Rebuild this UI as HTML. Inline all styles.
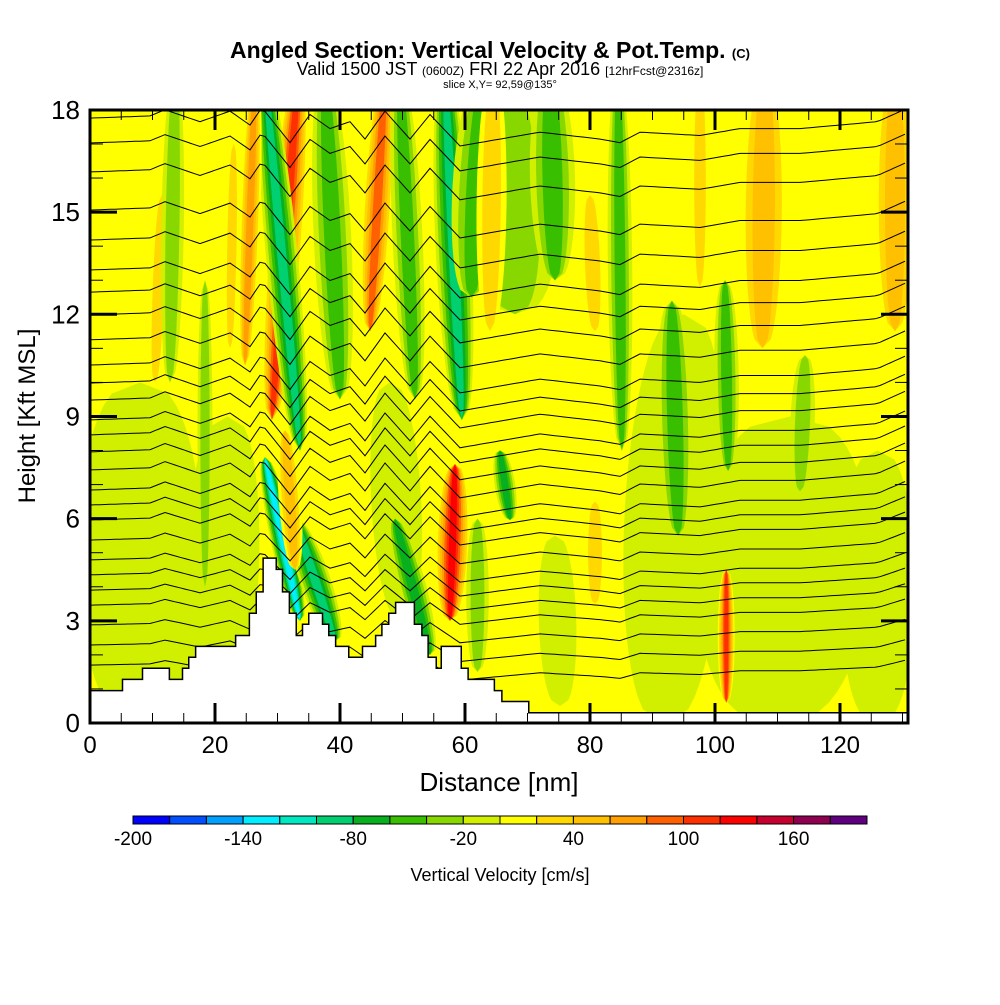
<!DOCTYPE html>
<html><head><meta charset="utf-8"><style>
body{margin:0;background:#fff;}
svg text{font-family:"Liberation Sans",sans-serif;}
</style></head><body>
<svg id="chart" width="1000" height="1000" viewBox="0 0 1000 1000" xmlns="http://www.w3.org/2000/svg">
<rect width="1000" height="1000" fill="#fff"/>
<text x="490" y="58" text-anchor="middle" font-size="23" font-weight="bold">Angled Section: Vertical Velocity &amp; Pot.Temp. <tspan font-size="13">(C)</tspan></text>
<text x="500" y="75" text-anchor="middle" font-size="18">Valid 1500 JST <tspan font-size="12">(0600Z)</tspan> FRI 22 Apr 2016 <tspan font-size="12">[12hrFcst@2316z]</tspan></text>
<text x="500" y="88" text-anchor="middle" font-size="11">slice X,Y= 92,59@135°</text>
<defs><clipPath id="plotclip"><rect x="90" y="110" width="818" height="613"/></clipPath></defs>
<g id="field" clip-path="url(#plotclip)"></g>
<g id="contours" clip-path="url(#plotclip)"></g>
<g id="terrain" clip-path="url(#plotclip)"></g>
<g id="axes"></g>
<g id="colorbar"></g>
<text x="499" y="791" text-anchor="middle" font-size="26">Distance [nm]</text>
<text transform="translate(35,416) rotate(-90)" text-anchor="middle" font-size="24">Height [Kft MSL]</text>
<text x="500" y="881" text-anchor="middle" font-size="18">Vertical Velocity [cm/s]</text>
</svg>
<script>
// ---- data ----
const levelColors = ["#0000ff","#0050ff","#00a0ff","#00eeff","#00e8c0","#00d070","#08b020","#38c000","#88d800","#d0f000","#ffff00","#ffd800","#ffc000","#ffa000","#ff6000","#ff3000","#ff0000","#c80030","#900050","#600080"];
const levelTicks = [-200,-140,-80,-20,40,100,160];
const xTicks = [0,20,40,60,80,100,120];
const yTicks = [0,3,6,9,12,15,18];
// blobs: bottom x(nm), bottom z(kft), top x, top z, half-width(nm), value(cm/s)
const blobX0 = [8,20,110,92,126,68,50, 29.1,33.6,24.8,44.8,40,52,59.5,61,57.6,33.6,39.2,32.8,54.4,101.8,74.4,85.1,94.1,102.1,113.6,67.2,107.6,128.8,64,80.8,97.6,10.4,22.4,80.8,75.2,62,12.8,18.4];
const blobZ0 = [0,0,0,0,0,12,3, 8.9,8.0,10.5,11.5,9.5,9.5,8.9,12.5,3.0,3.0,2.4,4.5,2.0,0.6,13.0,8.0,5.5,7.4,6.8,5.96,11.0,11.5,11.5,11.5,12.8,10.0,11,3.5,0.5,1.5,10,4];
const blobX1 = [8,22,112,95,126,66,48, 33.3,28,26.4,47.2,37.6,49.6,56.8,63,58.4,28,32.8,31.2,48.8,101.8,73.6,84.5,93.1,101.6,114.4,65.6,108,128.8,64.5,80,97.6,11.5,23,80.8,74.4,62,13.6,18.4];
const blobZ1 = [10,9,9,12,8,19,10, 19,19,19,19,19,19,19,19,7.6,7.8,6.0,8.6,6.0,4.5,19,19,12.4,13.0,10.8,8.0,19,19,19,15.5,19,15.5,17,6.5,5.5,6,19,13];
const blobHW = [10,6,14,8,6,8,4, 1.9,1.7,1.1,1.6,2.0,1.6,1.9,4,1.8,1.3,1.7,1.2,1.5,0.9,2.4,1.3,1.9,1.3,1.3,1.1,4,2.4,1.6,1.3,1.0,1.0,0.8,1.2,2,1.2,1.2,0.8];
const blobVal = [-10,-10,-10,-10,-10,-30,-10, 110,-90,70,100,-60,-60,-100,-60,140,-130,-100,60,-70,120,-60,-55,-60,-55,-35,-80,60,60,40,40,40,40,40,40,-20,-30,-30,-30];
// potential temperature contours: left-edge height (kft)
const thetaZ = [17.76,17.03,16.18,15.06,14.18,13.3,12.65,11.98,11.25,10.51,9.98,9.48,8.9,8.46,7.96,7.43,6.84,6.4,5.96,5.37,4.79,4.35,3.9,3.46,2.88,2.29,1.7];
// wave displacement knots (nm) and displacement (kft, negative = down)
const waveX = [0,9.6,12,17.6,22.4,25.6,27.5,32,35.2,38.4,41.6,44,47.2,51.2,54.4,59.2,65.6,72,81.6,84.8,88,97.6,104,113.6,126,131];
const waveDZ = [0,0.09,0.35,-0.15,0.29,-0.29,0.44,-1.03,0.15,-0.44,-0.15,-0.88,0.29,-0.88,0.15,-1.17,-0.88,-0.59,-0.88,-1.03,-0.59,-0.73,-0.44,-0.44,-0.15,0.44];
// terrain steps: start x (nm), height (kft)
const terrX = [0,5.2,8.4,12.7,14.8,15.8,16.9,23.3,25.5,26.6,27.7,29.8,30.8,31.9,33.0,34.0,35.0,37.2,38.2,39.3,41.4,43.6,45.7,46.7,47.8,48.9,51.9,53.1,54.1,55.4,56.2,59.4,60.5,64.7,65.9,70.2];
const terrZ = [0.95,1.28,1.61,1.28,1.61,1.93,2.25,2.57,3.22,3.85,4.84,4.51,3.85,3.22,2.57,2.9,3.22,2.9,2.57,2.25,1.93,2.25,2.57,2.9,3.22,3.54,2.9,2.57,1.93,1.61,2.25,1.61,1.28,0.95,0.63,0.3];

// ---- scales ----
const X = nm => 90 + nm*6.25;
const Y = k => 723 - k*34.06;
const NS = "http://www.w3.org/2000/svg";
function mk(tag, attrs, parent){const e=document.createElementNS(NS,tag);for(const k in attrs)e.setAttribute(k,attrs[k]);parent.appendChild(e);return e;}
const colorFor = v => levelColors[Math.max(0,Math.min(19,Math.floor((v+200)/20)))];

// ---- field ----
const field = document.getElementById('field');
const bg = mk('rect',{x:90,y:110,width:818,height:613,fill:"#ffff00"},field);


function blobPath(x0,z0,x1,z1,hw,scale){
  const N=30, left=[], right=[];
  for(let i=0;i<=N;i++){
    const t=i/N, cx=X(x0+(x1-x0)*t), cy=Y(z0+(z1-z0)*t);
    const w=hw*6.25*scale*Math.pow(Math.sin(Math.PI*t),0.35);
    left.push((cx-w).toFixed(1)+","+cy.toFixed(1));
    right.unshift((cx+w).toFixed(1)+","+cy.toFixed(1));
  }
  return "M"+left.concat(right).join("L")+"Z";
}
for(let i=0;i<blobVal.length;i++){
  const v=blobVal[i], s=Math.sign(v), n=Math.max(1,Math.ceil(Math.abs(v)/20));
  const big = blobHW[i] >= 4 ? 1 : 1.5;
  for(let k=0;k<n;k++){
    const lv = s*(k*20+10);
    const sc = big*(1 - k/(n+0.6));
    const p = mk('path',{d:blobPath(blobX0[i],blobZ0[i],blobX1[i],blobZ1[i],blobHW[i],sc),fill:colorFor(lv)},field);
    
    
  }
}

// ---- contours ----
const cg = document.getElementById('contours');
function wave(nm){
  for(let i=0;i<waveX.length-1;i++){
    if(nm>=waveX[i]&&nm<=waveX[i+1]){const t=(nm-waveX[i])/(waveX[i+1]-waveX[i]);return waveDZ[i]+(waveDZ[i+1]-waveDZ[i])*t;}
  }
  return waveDZ[waveDZ.length-1];
}
thetaZ.forEach(z=>{
  const amp = 0.7*Math.min(1, 0.4 + z/12);
  const pts=[];
  for(let nm=0;nm<=131;nm+=0.8){pts.push(X(nm).toFixed(1)+","+Y(z+amp*wave(nm)).toFixed(1));}
  const pl = mk('polyline',{points:pts.join(" "),fill:"none",stroke:"#000","stroke-width":1},cg);
  
  
});

// ---- terrain ----
const tg = document.getElementById('terrain');
let d = "M"+X(0)+","+Y(0);
for(let i=0;i<terrX.length;i++){
  const xs=X(terrX[i]), xe = i<terrX.length-1?X(terrX[i+1]):X(131);
  d += " L"+xs+","+Y(terrZ[i]).toFixed(1)+" L"+xe+","+Y(terrZ[i]).toFixed(1);
}
d += " L"+X(131)+","+Y(0)+"Z";
const tp = mk('path',{d:d,fill:"#fff",stroke:"#000","stroke-width":1.5},tg);



// ---- axes ----
const ag = document.getElementById('axes');
const frame = mk('rect',{x:90,y:110,width:818,height:613,fill:"none",stroke:"#000","stroke-width":3},ag);


for(let nm=5;nm<131;nm+=5){
  const maj = nm%20===0, L = maj?20:10;
  mk('line',{x1:X(nm),x2:X(nm),y1:723,y2:723-L,stroke:"#000","stroke-width":maj?3:1},ag);
  mk('line',{x1:X(nm),x2:X(nm),y1:110,y2:110+L,stroke:"#000","stroke-width":maj?3:1},ag);
}
for(let k=1;k<18;k++){
  const maj = k%3===0, L = maj?27:13;
  mk('line',{x1:90,x2:90+L,y1:Y(k),y2:Y(k),stroke:"#000","stroke-width":maj?3:1},ag);
  mk('line',{x1:908,x2:908-L,y1:Y(k),y2:Y(k),stroke:"#000","stroke-width":maj?3:1},ag);
}
xTicks.forEach(v=>{
  const t = mk('text',{x:X(v),y:753,"text-anchor":"middle","font-size":24},ag);
  t.textContent=v;
  
  
});
yTicks.forEach(v=>{
  const t = mk('text',{x:80,y:Y(v)+9,"text-anchor":"end","font-size":26},ag);
  t.textContent=v;
  
  
});

// ---- colorbar ----
const cbg = document.getElementById('colorbar');
const cbX0=133, cbW=36.7;
levelColors.forEach((c,i)=>{
  const r = mk('rect',{x:cbX0+i*cbW,y:816,width:cbW,height:8,fill:c,stroke:"#000","stroke-width":1},cbg);
  
  
});
levelTicks.forEach(v=>{
  const t = mk('text',{x:cbX0+(v+200)/20*cbW,y:845,"text-anchor":"middle","font-size":19},cbg);
  t.textContent=v;
  
  
});
</script>
</body></html>
